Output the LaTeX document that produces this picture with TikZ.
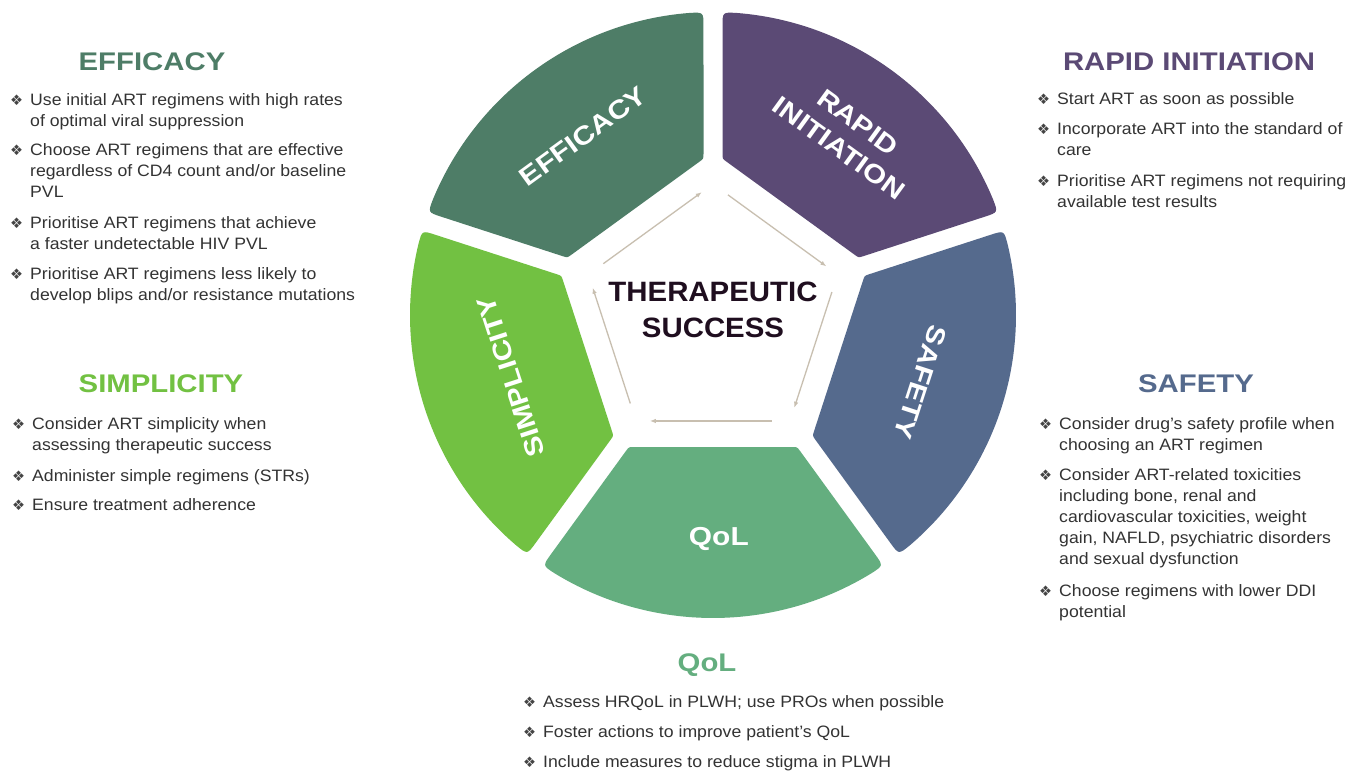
\documentclass[tikz,border=0pt]{standalone}
\usepackage{fontspec}
\setmainfont{Liberation Sans}
\newfontfamily\bodyfont{Liberation Sans}[FakeStretch=1.07]
\newfontfamily\ttlfont{Liberation Sans}[FakeStretch=1.15]
\newfontfamily\cntfont{Liberation Sans}[FakeStretch=1.05]
\newfontfamily\symfnt{DejaVu Sans}
\usetikzlibrary{calc,arrows.meta}

\definecolor{cEff}{HTML}{4E7D67}
\definecolor{cRap}{HTML}{5B4A75}
\definecolor{cSaf}{HTML}{556A8D}
\definecolor{cQol}{HTML}{64AE7F}
\definecolor{cSim}{HTML}{72C142}
\definecolor{txtgray}{HTML}{333333}
\definecolor{bulgray}{HTML}{444444}
\definecolor{ctrtxt}{HTML}{1F0E1F}
\definecolor{arrowc}{HTML}{C8BFB0}

\newcommand\mysegment[2]{%
  \pgfmathsetmacro\aL{#1+36}%
  \pgfmathsetmacro\aR{#1-36}%
  \pgfmathsetmacro\oL{#1+34.20}%
  \pgfmathsetmacro\oR{#1-34.20}%
  \pgfmathsetmacro\oLt{#1+34.20-2.65}%
  \pgfmathsetmacro\oRt{#1-34.20+2.65}%
  \pgfmathsetmacro\iL{#1+32.52}%
  \pgfmathsetmacro\iR{#1-32.52}%
  \pgfmathsetmacro\tn{#1+90}%
  \fill[#2]
    ($(C)+(\iL:156.55)+(\aL:5)$)
    -- ($(C)+(\oL:303)+(\aL:-14)$)
    .. controls ($(C)+(\oL:303)$) .. ($(C)+(\oLt:303)$)
    arc[start angle=\oLt, end angle=\oRt, radius=303]
    .. controls ($(C)+(\oR:303)$) .. ($(C)+(\oR:303)+(\aR:-14)$)
    -- ($(C)+(\iR:156.55)+(\aR:5)$)
    .. controls ($(C)+(\iR:156.55)$) .. ($(C)+(\iR:156.55)+(\tn:5)$)
    -- ($(C)+(\iL:156.55)+(\tn:-5)$)
    .. controls ($(C)+(\iL:156.55)$) .. ($(C)+(\iL:156.55)+(\aL:5)$)
    -- cycle;
}
\newcommand\bul{\makebox[27pt][c]{\color{bulgray}\symfnt\fontsize{14.5}{14.5}\selectfont\raisebox{-0.5pt}{❖}}}
\newcommand\bitem[1]{\begin{tabular}[t]{@{}l@{}l@{}}\bul & #1\end{tabular}}

\tikzset{
  seglabel/.style={text=white, inner sep=0pt, align=center,
    font=\ttlfont\bfseries\fontsize{26}{32}\selectfont},
  ttl/.style={inner sep=0pt, font=\ttlfont\bfseries\fontsize{25.5}{30}\selectfont},
  itm/.style={anchor=base west, inner sep=0pt, text=txtgray,
    font=\bodyfont\fontsize{16.5}{21}\selectfont},
  flowarrow/.style={draw=arrowc, line width=1.3pt, -{Latex[length=6pt,width=4.5pt]}},
}

\begin{document}
\begin{tikzpicture}[x=1pt,y=1pt]
\useasboundingbox (0,0) rectangle (1358,-774);
\fill[white] (0,0) rectangle (1358,-774);

\coordinate (C) at (713,-315);

% ring segments
\mysegment{126}{cEff}
\mysegment{54}{cRap}
\mysegment{-18}{cSaf}
\mysegment{-90}{cQol}
\mysegment{198}{cSim}

% segment labels
\node[seglabel, rotate=36] (lEff) at ($(C)+(126:221)$) {EFFICACY};
\node[seglabel, rotate=-36] (lRap) at ($(C)+(53:225)$) {RAPID\\INITIATION};
\node[seglabel, rotate=-108] (lSaf) at ($(C)+(-18:218)$) {SAFETY};
\node[seglabel] (lQol) at ($(C)+(-88.5:224)$) {QoL};
\node[seglabel, rotate=108] (lSim) at ($(C)+(197:211)$) {SIMPLICITY};

% inner pentagon arrows
\coordinate (v1) at ($(C)+(162:131)$);
\coordinate (v2) at ($(C)+(90:131)$);
\coordinate (v3) at ($(C)+(18:131)$);
\coordinate (v4) at ($(C)+(-54:131)$);
\coordinate (v5) at ($(C)+(-126:131)$);
\draw[flowarrow] ($(v1)!0.12!(v2)$) -- ($(v1)!0.91!(v2)$);
\draw[flowarrow] ($(v2)!0.12!(v3)$) -- ($(v2)!0.91!(v3)$);
\draw[flowarrow] ($(v3)!0.12!(v4)$) -- ($(v3)!0.91!(v4)$);
\draw[flowarrow] ($(v4)!0.12!(v5)$) -- ($(v4)!0.91!(v5)$);
\draw[flowarrow] ($(v5)!0.12!(v1)$) -- ($(v5)!0.91!(v1)$);

% centre text
\node[text=ctrtxt, align=center, inner sep=0pt,
  font=\cntfont\bfseries\fontsize{28}{36}\selectfont] (ctr) at (713,-310)
  {THERAPEUTIC\\SUCCESS};

% EFFICACY panel
\node[ttl, text=cEff] (tEff) at (152,-62) {EFFICACY};
\node[itm] (e1) at (3,-105) {\bitem{Use initial ART regimens with high rates\\ & of optimal viral suppression}};
\node[itm] (e2) at (3,-155) {\bitem{Choose ART regimens that are effective\\ & regardless of CD4 count and/or baseline\\ & PVL}};
\node[itm] (e3) at (3,-228) {\bitem{Prioritise ART regimens that achieve\\ & a faster undetectable HIV PVL}};
\node[itm] (e4) at (3,-279) {\bitem{Prioritise ART regimens less likely to\\ & develop blips and/or resistance mutations}};

% SIMPLICITY panel
\node[ttl, text=cSim] (tSim) at (161,-384) {SIMPLICITY};
\node[itm] (s1) at (5,-429) {\bitem{Consider ART simplicity when\\ & assessing therapeutic success}};
\node[itm] (s2) at (5,-481) {\bitem{Administer simple regimens (STRs)}};
\node[itm] (s3) at (5,-510) {\bitem{Ensure treatment adherence}};

% RAPID INITIATION panel
\node[ttl, text=cRap] (tRap) at (1189,-62) {RAPID INITIATION};
\node[itm] (r1) at (1030,-104) {\bitem{Start ART as soon as possible}};
\node[itm] (r2) at (1030,-134) {\bitem{Incorporate ART into the standard of\\ & care}};
\node[itm] (r3) at (1030,-186) {\bitem{Prioritise ART regimens not requiring\\ & available test results}};

% SAFETY panel
\node[ttl, text=cSaf] (tSaf) at (1196,-384) {SAFETY};
\node[itm] (f1) at (1032,-429) {\bitem{Consider drug’s safety profile when\\ & choosing an ART regimen}};
\node[itm] (f2) at (1032,-480) {\bitem{Consider ART-related toxicities\\ & including bone, renal and\\ & cardiovascular toxicities, weight\\ & gain, NAFLD, psychiatric disorders\\ & and sexual dysfunction}};
\node[itm] (f3) at (1032,-596) {\bitem{Choose regimens with lower DDI\\ & potential}};

% QoL panel
\node[ttl, text=cQol] (tQol) at (707,-665) {QoL};
\node[itm] (q1) at (516,-707) {\bitem{Assess HRQoL in PLWH; use PROs when possible}};
\node[itm] (q2) at (516,-737) {\bitem{Foster actions to improve patient’s QoL}};
\node[itm] (q3) at (516,-767) {\bitem{Include measures to reduce stigma in PLWH}};
\end{tikzpicture}
\end{document}
